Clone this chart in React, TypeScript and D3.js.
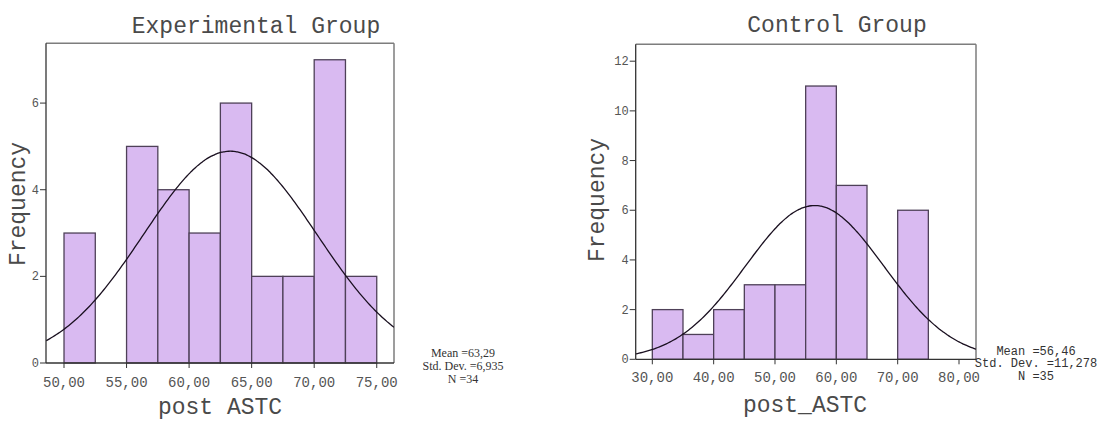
import React from "react";
import * as d3 from "d3";

// Experimental group: bins of 2.5 starting at 50
const expBinStarts = [50, 52.5, 55, 57.5, 60, 62.5, 65, 67.5, 70, 72.5];
const expCounts = [3, 0, 5, 4, 3, 6, 2, 2, 7, 2];
const expXTicks = [50, 55, 60, 65, 70, 75];
const expYTicks = [0, 2, 4, 6];
const expStats = { mean: 63.29, sd: 6.935, n: 34 };

// Control group: bins of 5 starting at 30
const ctlBinStarts = [30, 35, 40, 45, 50, 55, 60, 65, 70];
const ctlCounts = [2, 1, 2, 3, 3, 11, 7, 0, 6];
const ctlXTicks = [30, 40, 50, 60, 70, 80];
const ctlYTicks = [0, 2, 4, 6, 8, 10, 12];
const ctlStats = { mean: 56.46, sd: 11.278, n: 35 };

const MONO = "'Liberation Mono', 'DejaVu Sans Mono', monospace";
const SERIF = "'Liberation Serif', 'DejaVu Serif', serif";

const fmt = (v: number) => v.toFixed(2).replace(".", ",");

type Props = {
  id: string;
  title: string;
  xLabel: string;
  binStarts: number[];
  counts: number[];
  binWidth: number;
  xTicks: number[];
  yTicks: number[];
  stats: { mean: number; sd: number; n: number };
  box: { left: number; right: number; top: number; bottom: number };
  xDomain: [number, number];
  yMax: number;
  titleX: number;
  titleY: number;
  xLabelX: number;
  xLabelY: number;
  yLabelX: number;
  yLabelY: number;
  tickY: number;
  statsX: number;
  statsY: number[];
  statsMono: boolean;
  statsLines: string[];
};

const Histogram = (p: Props) => {
  const { box } = p;
  const x = d3.scaleLinear().domain(p.xDomain).range([box.left, box.right]);
  const y = d3.scaleLinear().domain([0, p.yMax]).range([box.bottom, box.top]);

  // fitted normal curve scaled to counts
  const k = (p.stats.n * p.binWidth) / (p.stats.sd * Math.sqrt(2 * Math.PI));
  const pts = d3.range(p.xDomain[0], p.xDomain[1] + 0.01, (p.xDomain[1] - p.xDomain[0]) / 200);
  const line = d3
    .line<number>()
    .x((d) => x(d))
    .y((d) => y(k * Math.exp(-0.5 * ((d - p.stats.mean) / p.stats.sd) ** 2)))
    .curve(d3.curveBasis);

  return (
    <g>
      <defs>
        <clipPath id={p.id}>
          <rect x={box.left} y={box.top} width={box.right - box.left} height={box.bottom - box.top} />
        </clipPath>
      </defs>
      <text x={p.titleX} y={p.titleY} textAnchor="middle" fontFamily={MONO} fontSize={23} fill="#4a4a4a">
        {p.title}
      </text>
      {/* frame */}
      <line x1={box.left} x2={box.right} y1={box.top} y2={box.top} stroke="#7d7d7d" strokeWidth={1.5} />
      <line x1={box.right} x2={box.right} y1={box.top} y2={box.bottom} stroke="#7d7d7d" strokeWidth={1.5} />
      {/* bars */}
      {p.counts.map((c, i) =>
        c > 0 ? (
          <rect
            key={i}
            x={x(p.binStarts[i])}
            y={y(c)}
            width={x(p.binStarts[i] + p.binWidth) - x(p.binStarts[i])}
            height={y(0) - y(c)}
            fill="#d9baf1"
            stroke="#4e4058"
            strokeWidth={1.3}
          />
        ) : null
      )}
      <path d={line(pts) || ""} fill="none" stroke="#1a1020" strokeWidth={1.3} clipPath={`url(#${p.id})`} />
      {/* axes */}
      <line x1={box.left} x2={box.left} y1={box.top} y2={box.bottom} stroke="#333" strokeWidth={1.3} />
      <line x1={box.left} x2={box.right} y1={box.bottom} y2={box.bottom} stroke="#333" strokeWidth={1.3} />
      {p.yTicks.map((t) => (
        <g key={t}>
          <line x1={box.left - 6} x2={box.left} y1={y(t)} y2={y(t)} stroke="#333" />
          <text x={box.left - 7} y={y(t) + 4} textAnchor="end" fontFamily={MONO} fontSize={12} fill="#555">
            {t}
          </text>
        </g>
      ))}
      {p.xTicks.map((t) => (
        <g key={t}>
          <line x1={x(t)} x2={x(t)} y1={box.bottom} y2={box.bottom + 5} stroke="#333" />
          <text x={x(t)} y={p.tickY} textAnchor="middle" fontFamily={MONO} fontSize={14} fill="#555">
            {fmt(t)}
          </text>
        </g>
      ))}
      <text
        transform={`translate(${p.yLabelX},${p.yLabelY}) rotate(-90)`}
        textAnchor="middle"
        fontFamily={MONO}
        fontSize={23}
        fill="#4a4a4a"
      >
        Frequency
      </text>
      <text x={p.xLabelX} y={p.xLabelY} textAnchor="middle" fontFamily={MONO} fontSize={23} fill="#4a4a4a">
        {p.xLabel}
      </text>
      {p.statsLines.map((s, i) => (
        <text
          key={i}
          x={p.statsX}
          y={p.statsY[i]}
          textAnchor="middle"
          fontFamily={p.statsMono ? MONO : SERIF}
          fontSize={12}
          fill="#333"
        >
          {s}
        </text>
      ))}
    </g>
  );
};

const App = () => {
  return (
    <svg
      width={1104}
      height={421}
      style={{ position: "absolute", left: 0, top: 0, background: "#fff" }}
    >
      <Histogram
        id="clipExp"
        title="Experimental Group"
        xLabel="post ASTC"
        binStarts={expBinStarts}
        counts={expCounts}
        binWidth={2.5}
        xTicks={expXTicks}
        yTicks={expYTicks}
        stats={expStats}
        box={{ left: 46, right: 394, top: 43.3, bottom: 363 }}
        xDomain={[48.56, 76.38]}
        yMax={7.38}
        titleX={256}
        titleY={33}
        xLabelX={220}
        xLabelY={414}
        yLabelX={25}
        yLabelY={204}
        tickY={387}
        statsX={463}
        statsY={[357, 370, 383]}
        statsMono={false}
        statsLines={["Mean =63,29", "Std. Dev. =6,935", "N =34"]}
      />
      <Histogram
        id="clipCtl"
        title="Control Group"
        xLabel="post_ASTC"
        binStarts={ctlBinStarts}
        counts={ctlCounts}
        binWidth={5}
        xTicks={ctlXTicks}
        yTicks={ctlYTicks}
        stats={ctlStats}
        box={{ left: 635.7, right: 976, top: 44.3, bottom: 359.3 }}
        xDomain={[27.29, 82.77]}
        yMax={12.68}
        titleX={837}
        titleY={32}
        xLabelX={805}
        xLabelY={412}
        yLabelX={604}
        yLabelY={200}
        tickY={382}
        statsX={1036}
        statsY={[355, 367, 380]}
        statsMono={true}
        statsLines={["Mean =56,46", "Std. Dev. =11,278", "N =35"]}
      />
    </svg>
  );
};

export default App;
